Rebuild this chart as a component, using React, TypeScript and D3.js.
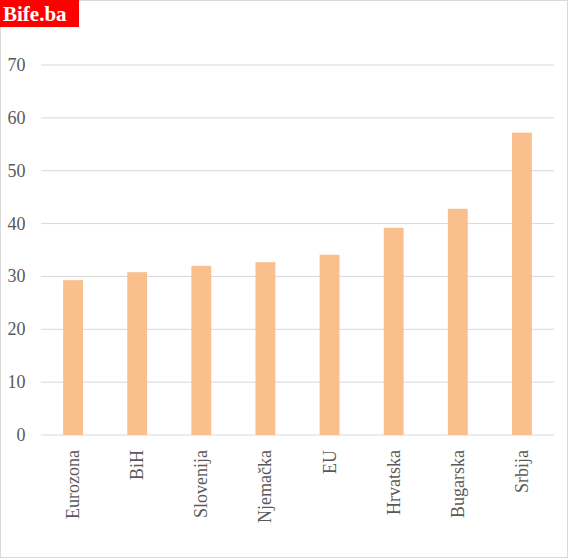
import React from "react";
import * as d3 from "d3";

const categories = ["Eurozona", "BiH", "Slovenija", "Njemačka", "EU", "Hrvatska", "Bugarska", "Srbija"];
const values = [29.3, 30.8, 32.0, 32.7, 34.1, 39.2, 42.8, 57.2];
const yTicks = [0, 10, 20, 30, 40, 50, 60, 70];

const W = 568;
const H = 558;
const left = 41;
const right = 554;
const top = 65;
const bottom = 435;

export default function App() {
  const x = d3.scaleBand<string>().domain(categories).range([left, right]).paddingInner(0.69).paddingOuter(0.345);
  const y = d3.scaleLinear().domain([0, 70]).range([bottom, top]);
  const font = "'Liberation Serif', 'Times New Roman', serif";
  return (
    <svg width={W} height={H} style={{ position: "absolute", left: 0, top: 0 }}>
      <rect x={0.5} y={0.5} width={W - 1} height={H - 1} fill="#fff" stroke="#d9d9d9" />
      {yTicks.map((t) => (
        <g key={t}>
          <line x1={left} x2={right} y1={y(t)} y2={y(t)} stroke="#d9d9d9" strokeWidth={1} />
          <text x={25.5} y={y(t)} dy="0.33em" textAnchor="end" fontFamily={font} fontSize={18} fill="#595959">
            {t}
          </text>
        </g>
      ))}
      {categories.map((c, i) => (
        <rect key={c} x={x(c)} y={y(values[i])} width={x.bandwidth()} height={y(0) - y(values[i])} fill="#f9c08e" />
      ))}
      {categories.map((c) => {
        const cx = (x(c) as number) + x.bandwidth() / 2;
        return (
          <text
            key={c}
            transform={`translate(${cx},${450}) rotate(-90)`}
            textAnchor="end"
            dy="0.33em"
            fontFamily={font}
            fontSize={18}
            fill="#595959"
          >
            {c}
          </text>
        );
      })}
      <rect x={0} y={0} width={79} height={27} fill="#ff0000" />
      <text x={3} y={21} fontFamily={font} fontWeight="bold" fontSize={21} fill="#fff">
        Bife.ba
      </text>
    </svg>
  );
}
